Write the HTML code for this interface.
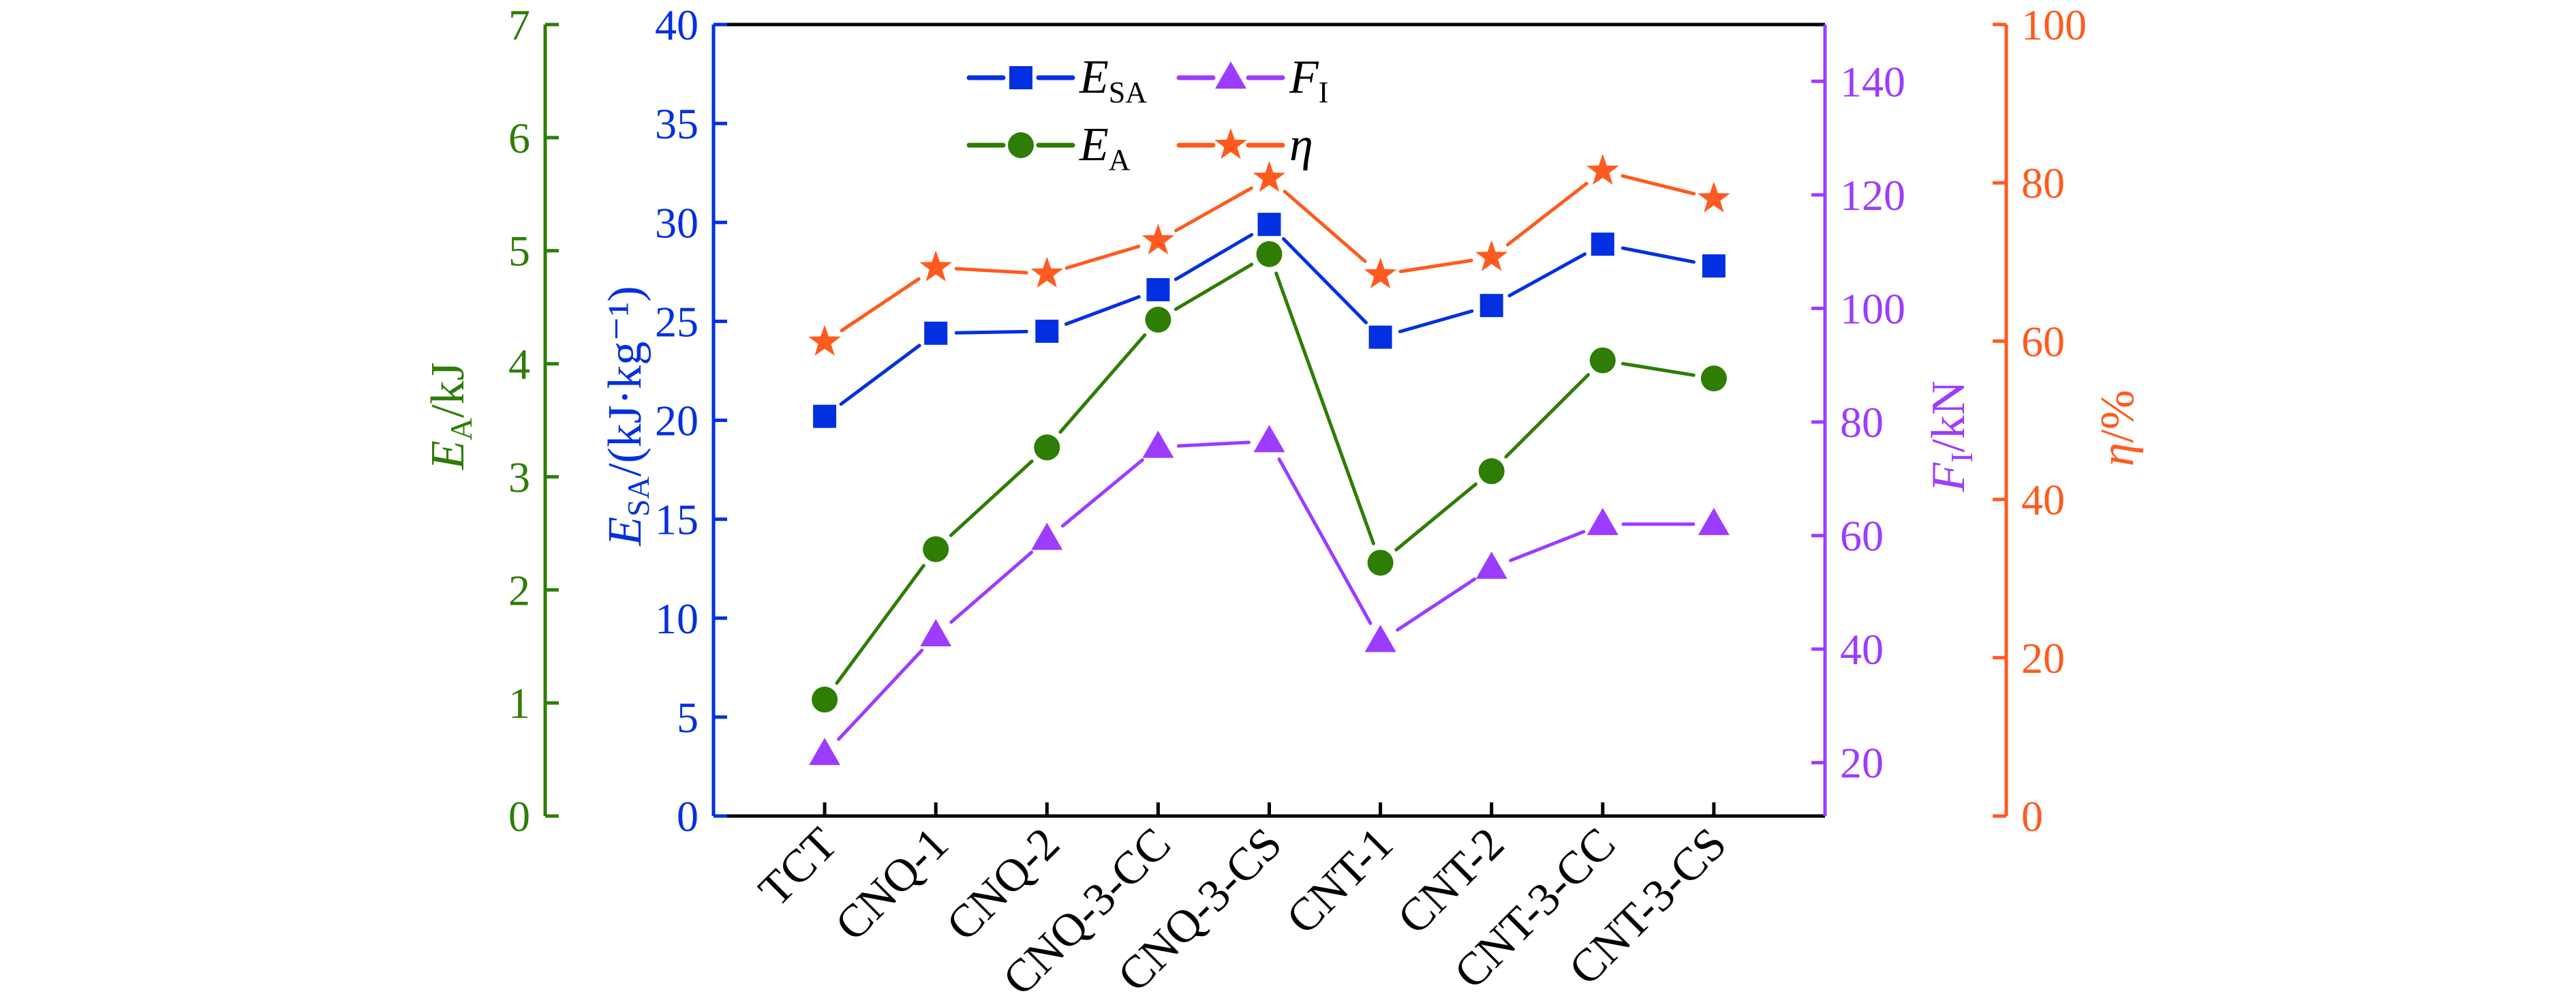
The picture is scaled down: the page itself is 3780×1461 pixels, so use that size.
<!DOCTYPE html>
<html><head><meta charset="utf-8"><style>
html,body{margin:0;padding:0;background:#fff;}
svg, svg text, svg tspan{font-family:"Liberation Serif","Times New Roman","DejaVu Serif","Noto Serif CJK SC",serif;}
</style></head><body>
<svg id="chart" width="3780" height="1456" viewBox="0 0 3780 1456" xmlns="http://www.w3.org/2000/svg">
<g id="axes"></g><g id="series"></g><g id="legend"></g>
</svg>
<script>
const categories = ["TCT","CNQ-1","CNQ-2","CNQ-3-CC","CNQ-3-CS","CNT-1","CNT-2","CNT-3-CC","CNT-3-CS"];
const esaValues = [20.2,24.4,24.5,26.6,29.9,24.2,25.8,28.9,27.8];
const eaValues = [1.03,2.36,3.26,4.39,4.97,2.24,3.05,4.03,3.87];
const fiValues = [21.5,42.4,59.4,75.6,76.6,41.4,54.3,62.0,62.0];
const etaValues = [59.9,69.3,68.5,72.7,80.6,68.4,70.6,81.5,78.0];
const eaTicks = [0,1,2,3,4,5,6,7];
const esaTicks = [0,5,10,15,20,25,30,35,40];
const fiTicks = [20,40,60,80,100,120,140];
const etaTicks = [0,20,40,60,80,100];

const NS="http://www.w3.org/2000/svg";
const TOP=36, BOT=1197, L=1047, R=2678, GX=800, OX=2944;
const C={blue:"#0230e0",green:"#2e7d05",purple:"#9c3cff",orange:"#ff5a1f"};
function mk(tag,attrs,parent,text){const e=document.createElementNS(NS,tag);for(const k in attrs)e.setAttribute(k,attrs[k]);if(text!==undefined)e.textContent=text;parent.appendChild(e);return e;}
const xS=i=>L+(R-L)*(i+1)/10;
const yLin=(lo,hi)=>v=>BOT-(v-lo)/(hi-lo)*(BOT-TOP);
const yEsa=yLin(0,40), yEa=yLin(0,7), yFi=yLin(10.6,150), yEta=yLin(0,100);
const axes=document.getElementById('axes'), ser=document.getElementById('series'), leg=document.getElementById('legend');
const FS=64;

let f=mk('line',{x1:L,y1:TOP,x2:R,y2:TOP,stroke:"#000","stroke-width":5},axes);


f=mk('line',{x1:L,y1:BOT,x2:R,y2:BOT,stroke:"#000","stroke-width":5},axes);



function vAxis(x,scale,ticks,color,dir,labelSide,name){
  const g=mk('g',{},axes);
  
  
  mk('line',{x1:x,y1:TOP,x2:x,y2:BOT,stroke:color,"stroke-width":5},g);
  ticks.forEach(t=>{
    const y=scale(t);
    mk('line',{x1:x,y1:y,x2:x+dir*20,y2:y,stroke:color,"stroke-width":5},g);
    const tx=mk('text',{x:labelSide<0?x-22:x+22,y:y+22,fill:color,"font-size":FS,"text-anchor":labelSide<0?"end":"start"},g,String(t));
    
    
  });
}
vAxis(GX,yEa,eaTicks,C.green,1,-1,'ea-axis');
vAxis(L,yEsa,esaTicks,C.blue,1,-1,'esa-axis');
vAxis(R,yFi,fiTicks,C.purple,-1,1,'fi-axis');
vAxis(OX,yEta,etaTicks,C.orange,-1,1,'eta-axis');

categories.forEach((c,i)=>{
  const x=xS(i);
  mk('line',{x1:x,y1:BOT,x2:x,y2:BOT-20,stroke:"#000","stroke-width":5},axes);
  const t=mk('text',{x:x+22,y:BOT+45,"font-size":68,"text-anchor":"end",transform:`rotate(-45 ${x+22} ${BOT+45})`},axes,c);
  
  
});

function title(x,y,color,main,sub,rest,name){
  const t=mk('text',{x:x,y:y,fill:color,"font-size":70,"text-anchor":"middle",transform:`rotate(-90 ${x} ${y})`},axes);
  
  
  mk('tspan',{"font-style":"italic"},t,main);
  if(sub){mk('tspan',{"font-size":46,dy:12},t,sub);mk('tspan',{dy:-12},t,rest);}
  else mk('tspan',{},t,rest);
}
title(680,610,C.green,"E","A","/kJ",'ea-axis-title');
title(940,610,C.blue,"E","SA","/(kJ·kg⁻¹)",'esa-axis-title');
title(2882,640,C.purple,"F","I","/kN",'fi-axis-title');
title(3130,628,C.orange,"η","","/%",'eta-axis-title');

function marker(kind,x,y,color,g){
  if(kind==='sq') return mk('rect',{x:x-17,y:y-17,width:34,height:34,fill:color},g);
  if(kind==='ci') return mk('circle',{cx:x,cy:y,r:19,fill:color},g);
  if(kind==='tr') return mk('polygon',{points:`${x},${y-24} ${x+23},${y+16} ${x-23},${y+16}`,fill:color},g);
  let p=[];for(let k=0;k<10;k++){const r=k%2?10:25,a=-Math.PI/2+k*Math.PI/5;p.push((x+r*Math.cos(a)).toFixed(1)+","+(y+r*Math.sin(a)).toFixed(1));}
  return mk('polygon',{points:p.join(' '),fill:color},g);
}
function series(vals,scale,color,kind,name){
  const g=mk('g',{},ser);
  
  
  const pts=vals.map((v,i)=>[xS(i),scale(v)]);
  for(let i=0;i<pts.length-1;i++){
    const [x1,y1]=pts[i],[x2,y2]=pts[i+1];const d=Math.hypot(x2-x1,y2-y1),gap=30;
    const ux=(x2-x1)/d,uy=(y2-y1)/d;
    mk('line',{x1:x1+ux*gap,y1:y1+uy*gap,x2:x2-ux*gap,y2:y2-uy*gap,stroke:color,"stroke-width":5,"stroke-linecap":"round"},g);
  }
  pts.forEach(([x,y],i)=>{const m=marker(kind,x,y,color,g);
    
    });
}
series(eaValues,yEa,C.green,'ci','ea-series');
series(fiValues,yFi,C.purple,'tr','fi-series');
series(esaValues,yEsa,C.blue,'sq','esa-series');
series(etaValues,yEta,C.orange,'st','eta-series');

function legendEntry(x,y,color,kind,main,sub,name){
  const g=mk('g',{},leg);
  
  
  mk('line',{x1:x,y1:y,x2:x+50,y2:y,stroke:color,"stroke-width":7,"stroke-linecap":"round"},g);
  mk('line',{x1:x+102,y1:y,x2:x+152,y2:y,stroke:color,"stroke-width":7,"stroke-linecap":"round"},g);
  marker(kind,x+76,y,color,g);
  const t=mk('text',{x:x+162,y:y+22,"font-size":70},g);
  mk('tspan',{"font-style":"italic"},t,main);
  if(sub)mk('tspan',{"font-size":44,dy:14},t,sub);
}
legendEntry(1422,114,C.blue,'sq',"E","SA",'legend-esa');
legendEntry(1730,114,C.purple,'tr',"F","I",'legend-fi');
legendEntry(1422,213,C.green,'ci',"E","A",'legend-ea');
legendEntry(1730,213,C.orange,'st',"η","",'legend-eta');
</script>
</body></html>
